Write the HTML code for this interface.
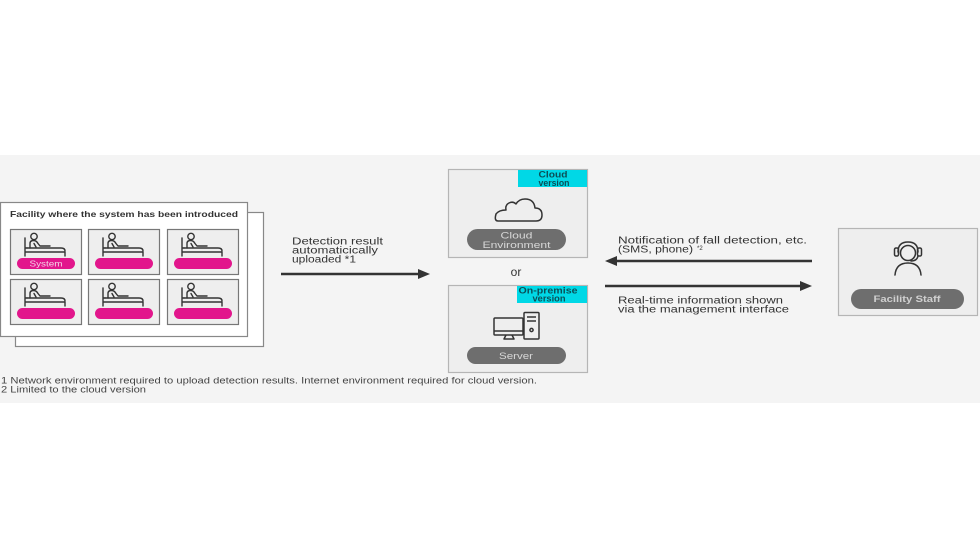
<!DOCTYPE html>
<html><head><meta charset="utf-8"><style>
html,body{margin:0;padding:0;background:#fff;}
svg{display:block;}
text{font-family:"Liberation Sans",sans-serif;}
</style></head><body>
<svg width="980" height="552" viewBox="0 0 980 552" xmlns="http://www.w3.org/2000/svg">
<defs>
<g id="bed" fill="none" stroke="#333" stroke-width="1.4" stroke-linecap="round" stroke-linejoin="round">
  <path d="M0,5 V23 M0,19 H40 V23 M0,15 H2"/>
  <path d="M2,15 H36 Q40,15 40,18"/>
  <circle cx="9" cy="3.5" r="3.2"/>
  <path d="M5,15 V10.5 Q5,7.5 8.5,7.5 Q11.5,7.5 13,10.5 L15,13 H25"/>
  <path d="M9,10.5 L11,14"/>
</g>
</defs>
<rect x="0" y="0" width="980" height="552" fill="#ffffff"/>
<rect x="0" y="155" width="980" height="248" fill="#f4f4f4"/>

<!-- facility boxes -->
<rect x="15.5" y="212.5" width="248" height="134" fill="#fff" stroke="#888" stroke-width="1.2"/>
<rect x="0.5" y="202.5" width="247" height="134" fill="#fff" stroke="#888" stroke-width="1.2"/>
<text x="10" y="217" font-size="8.5" font-weight="bold" fill="#333" textLength="228" lengthAdjust="spacingAndGlyphs">Facility where the system has been introduced</text>

<!-- cells -->
<g>
  <rect x="10.5" y="229.5" width="71" height="45" fill="#eeeeee" stroke="#777" stroke-width="1.2"/>
  <rect x="88.5" y="229.5" width="71" height="45" fill="#eeeeee" stroke="#777" stroke-width="1.2"/>
  <rect x="167.5" y="229.5" width="71" height="45" fill="#eeeeee" stroke="#777" stroke-width="1.2"/>
  <rect x="10.5" y="279.5" width="71" height="45" fill="#eeeeee" stroke="#777" stroke-width="1.2"/>
  <rect x="88.5" y="279.5" width="71" height="45" fill="#eeeeee" stroke="#777" stroke-width="1.2"/>
  <rect x="167.5" y="279.5" width="71" height="45" fill="#eeeeee" stroke="#777" stroke-width="1.2"/>

  <use href="#bed" x="25" y="233"/>
  <use href="#bed" x="103" y="233"/>
  <use href="#bed" x="182" y="233"/>
  <use href="#bed" x="25" y="283"/>
  <use href="#bed" x="103" y="283"/>
  <use href="#bed" x="182" y="283"/>

  <rect x="17" y="258" width="58" height="11" rx="5.5" fill="#e2168c"/>
  <rect x="95" y="258" width="58" height="11" rx="5.5" fill="#e2168c"/>
  <rect x="174" y="258" width="58" height="11" rx="5.5" fill="#e2168c"/>
  <rect x="17" y="308" width="58" height="11" rx="5.5" fill="#e2168c"/>
  <rect x="95" y="308" width="58" height="11" rx="5.5" fill="#e2168c"/>
  <rect x="174" y="308" width="58" height="11" rx="5.5" fill="#e2168c"/>
  <text x="46" y="266.5" font-size="8.5" fill="#f4d0e6" text-anchor="middle" textLength="33" lengthAdjust="spacingAndGlyphs">System</text>
</g>

<!-- footnotes -->
<text x="1" y="383.5" font-size="9" fill="#444" textLength="536" lengthAdjust="spacingAndGlyphs">1 Network environment required to upload detection results. Internet environment required for cloud version.</text>
<text x="1" y="392.5" font-size="9" fill="#444" textLength="145" lengthAdjust="spacingAndGlyphs">2 Limited to the cloud version</text>

<!-- upload arrow -->
<text x="292" y="244.5" font-size="10" fill="#333" textLength="91" lengthAdjust="spacingAndGlyphs">Detection result</text>
<text x="292" y="253.5" font-size="10" fill="#333" textLength="86" lengthAdjust="spacingAndGlyphs">automaticically</text>
<text x="292" y="262.5" font-size="10" fill="#333" textLength="64" lengthAdjust="spacingAndGlyphs">uploaded *1</text>
<line x1="281" y1="274" x2="420" y2="274" stroke="#333" stroke-width="2.4"/>
<polygon points="418,269 430,274 418,279" fill="#333"/>

<!-- cloud box -->
<rect x="448.5" y="169.5" width="139" height="88" fill="#eeeeee" stroke="#b5b5b5" stroke-width="1.2"/>
<rect x="518" y="170" width="69" height="17" fill="#00d8e6"/>
<text x="553" y="177.5" font-size="9" font-weight="bold" fill="#0b4f57" text-anchor="middle" textLength="29" lengthAdjust="spacingAndGlyphs">Cloud</text>
<text x="554" y="186" font-size="9" font-weight="bold" fill="#0b4f57" text-anchor="middle" textLength="31" lengthAdjust="spacingAndGlyphs">version</text>
<path d="M498,221 H536 Q542,221 542,215 Q542,208 535,208 Q534,199 525,199 Q519,199 516,204 Q513,201 509,203 Q505,205 506,210 Q499,210 496,214 Q494,221 498,221 Z" fill="none" stroke="#333" stroke-width="1.5" stroke-linejoin="round"/>
<rect x="467" y="229" width="99" height="21" rx="10.5" fill="#6e6e6e"/>
<text x="516.5" y="238.5" font-size="9.5" fill="#d8d8d8" text-anchor="middle" textLength="32" lengthAdjust="spacingAndGlyphs">Cloud</text>
<text x="516.5" y="248" font-size="9.5" fill="#d8d8d8" text-anchor="middle" textLength="68" lengthAdjust="spacingAndGlyphs">Environment</text>

<text x="516" y="276" font-size="12" fill="#333" text-anchor="middle">or</text>

<!-- server box -->
<rect x="448.5" y="285.5" width="139" height="87" fill="#eeeeee" stroke="#b5b5b5" stroke-width="1.2"/>
<rect x="517" y="286" width="70" height="17" fill="#00d8e6"/>
<text x="548" y="293.5" font-size="9" font-weight="bold" fill="#0b4f57" text-anchor="middle" textLength="59" lengthAdjust="spacingAndGlyphs">On-premise</text>
<text x="549" y="301.5" font-size="9" font-weight="bold" fill="#0b4f57" text-anchor="middle" textLength="33" lengthAdjust="spacingAndGlyphs">version</text>
<g fill="none" stroke="#333" stroke-width="1.5" stroke-linejoin="round">
  <rect x="494" y="318" width="29" height="17" rx="1"/>
  <line x1="494" y1="331" x2="523" y2="331"/>
  <path d="M506,335 L504,339 H514 L512,335"/>
  <rect x="524" y="312.5" width="15" height="26.5" rx="1"/>
  <line x1="527" y1="317" x2="536" y2="317"/>
  <line x1="527" y1="321" x2="536" y2="321"/>
  <circle cx="531.5" cy="330" r="1.6"/>
</g>
<rect x="467" y="347" width="99" height="17" rx="8.5" fill="#6e6e6e"/>
<text x="516" y="359" font-size="9.5" fill="#d8d8d8" text-anchor="middle" textLength="34" lengthAdjust="spacingAndGlyphs">Server</text>

<!-- right arrows -->
<text x="618" y="243.5" font-size="10" fill="#333" textLength="189" lengthAdjust="spacingAndGlyphs">Notification of fall detection, etc.</text>
<text x="618" y="252.5" font-size="10" fill="#333" textLength="75" lengthAdjust="spacingAndGlyphs">(SMS, phone)</text>
<text x="697" y="250" font-size="6" fill="#333">*2</text>
<line x1="615" y1="261" x2="812" y2="261" stroke="#333" stroke-width="2.4"/>
<polygon points="605,261 617,256 617,266" fill="#333"/>
<line x1="605" y1="286" x2="802" y2="286" stroke="#333" stroke-width="2.4"/>
<polygon points="800,281 812,286 800,291" fill="#333"/>
<text x="618" y="303.5" font-size="10" fill="#333" textLength="165" lengthAdjust="spacingAndGlyphs">Real-time information shown</text>
<text x="618" y="312.5" font-size="10" fill="#333" textLength="171" lengthAdjust="spacingAndGlyphs">via the management interface</text>

<!-- staff box -->
<rect x="838.5" y="228.5" width="139" height="87" fill="#eeeeee" stroke="#b5b5b5" stroke-width="1.2"/>
<g fill="none" stroke="#333" stroke-width="1.5" stroke-linecap="round">
  <circle cx="908" cy="253" r="7.5"/>
  <path d="M898,252 Q898,242 908,242 Q918,242 918,252"/>
  <rect x="894.5" y="248" width="4" height="8" rx="1.5"/>
  <rect x="917.5" y="248" width="4" height="8" rx="1.5"/>
  <path d="M918,256 Q917,261 911,261"/>
  <path d="M895,275 Q896,263 908,263 Q920,263 921,275"/>
</g>
<rect x="851" y="289" width="113" height="20" rx="10" fill="#6e6e6e"/>
<text x="907" y="302" font-size="9.5" font-weight="bold" fill="#d0d0d0" text-anchor="middle" textLength="67" lengthAdjust="spacingAndGlyphs">Facility Staff</text>
</svg>
</body></html>
